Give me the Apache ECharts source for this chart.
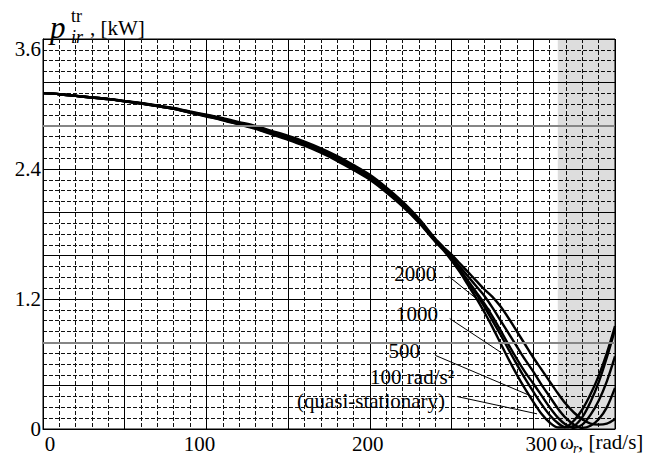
<!DOCTYPE html>
<html><head><meta charset="utf-8">
<script src="https://cdn.jsdelivr.net/npm/echarts@6/dist/echarts.min.js"></script>
<style>html,body{margin:0;padding:0;background:#fff}#c{width:648px;height:456px}</style>
</head><body><div id="c"></div>
<script>
// ---- data ----
const omega = [0,10,20,30,40,50,60,70,80,90,100,110,120,130,140,150,160,170,180,190,200,210,220,230,240,
  245,250,255,260,265,270,275,280,285,290,295,300,305,310,315,320,325,330,335,340,345,350];
const pQuasi = [3.10,3.09,3.075,3.06,3.045,3.025,3.005,2.98,2.955,2.92,2.885,2.85,2.81,2.77,2.72,2.67,2.615,2.55,2.475,2.39,2.30,2.185,2.055,1.905,1.73,
  1.65,1.555,1.45,1.33,1.21,1.08,0.94,0.79,0.64,0.50,0.37,0.25,0.14,0.06,0.015,0.02,0.08,0.18,0.32,0.49,0.70,0.95];
const p100 = [3.10,3.09,3.075,3.06,3.045,3.025,3.005,2.98,2.955,2.92,2.888,2.853,2.814,2.775,2.726,2.677,2.622,2.558,2.483,2.398,2.309,2.194,2.064,1.912,1.735,
  1.66,1.565,1.46,1.35,1.25,1.13,1.00,0.87,0.73,0.595,0.465,0.345,0.23,0.13,0.055,0.015,0.03,0.11,0.25,0.43,0.66,0.92];
const p500 = [3.10,3.09,3.075,3.06,3.045,3.025,3.005,2.982,2.957,2.923,2.892,2.858,2.82,2.782,2.734,2.686,2.632,2.568,2.494,2.41,2.32,2.205,2.075,1.922,1.742,
  1.665,1.575,1.475,1.37,1.265,1.16,1.04,0.91,0.775,0.645,0.525,0.42,0.31,0.20,0.105,0.04,0.01,0.04,0.13,0.26,0.44,0.67];
const p1000 = [3.10,3.09,3.075,3.06,3.046,3.027,3.007,2.984,2.96,2.927,2.896,2.863,2.826,2.789,2.742,2.695,2.642,2.579,2.506,2.422,2.332,2.216,2.085,1.93,1.748,
  1.67,1.59,1.50,1.41,1.32,1.23,1.12,1.00,0.88,0.76,0.64,0.53,0.41,0.30,0.19,0.10,0.04,0.01,0.03,0.09,0.20,0.38];
const p2000 = [3.10,3.09,3.076,3.061,3.047,3.028,3.009,2.987,2.963,2.931,2.901,2.869,2.833,2.797,2.751,2.705,2.653,2.591,2.519,2.436,2.346,2.23,2.098,1.942,1.757,
  1.68,1.61,1.53,1.45,1.37,1.29,1.22,1.13,1.02,0.90,0.78,0.66,0.55,0.44,0.33,0.23,0.15,0.09,0.05,0.04,0.05,0.09];
const xTickLabels = ['0','100','200','300'];
const yTickLabels = ['0','1.2','2.4','3.6'];
const shadeRange = [315, 350];
const grayLevels = [2.8, 0.8];
const annotTexts = ['2000','1000','500','100 rad/s\u00B2','(quasi-stationary)'];
const annotAt = [[227.8,1.43],[228.8,1.06],[221.1,0.72],[225.8,0.48],[200.7,0.26]];
const leaderFrom = [[248.2,1.41],[248.8,1.02],[240.0,0.68],[253.3,0.30]];
const leaderTo = [[273.7,1.10],[279.9,0.71],[299.3,0.30],[302.3,0.14]];

// ---- chart ----
const serif = 'Liberation Serif';
const chart = echarts.init(document.getElementById('c'), null, {renderer:'svg', width:648, height:456});
const mk = ys => omega.map((x,i)=>[x, ys[i]]);

const xShift = {'0':7,'100':-7,'200':-2,'300':8};
const xRich = {};
Object.keys(xShift).forEach(k=>{
  const s = xShift[k];
  xRich['s'+k] = {fontFamily:serif,fontSize:21,color:'#000',padding: s>0?[0,0,0,2*s]:[0,-2*s,0,0]};
});
const yRich = {
  top:{fontFamily:serif,fontSize:21,color:'#000',padding:[20,0,0,0]},
  n:{fontFamily:serif,fontSize:21,color:'#000'}
};

const curveStyle = {color:'#000', width:2.4};
const mkSeries = (name, ys) => ({
  type:'line', name, data: mk(ys), showSymbol:false, smooth:0.3,
  lineStyle:curveStyle, silent:true, z:3
});

const markLineData = grayLevels.map(v=>({yAxis:v, lineStyle:{color:'#858585', width:2, type:'solid'}}))
  .concat(leaderFrom.map((f,i)=>[{coord:f, lineStyle:{color:'#000', width:1, type:'solid'}},{coord:leaderTo[i]}]));

const series = [
  Object.assign(mkSeries('quasi-stationary', pQuasi), {
    markArea:{silent:true, itemStyle:{color:'rgba(0,0,0,0.135)'}, data:[[{xAxis:shadeRange[0]},{xAxis:shadeRange[1]}]]},
    markLine:{silent:true, symbol:['none','none'], label:{show:false}, animation:false, data:markLineData},
    markPoint:{silent:true, symbol:'circle', symbolSize:0, animation:false,
      label:{show:true, position:'inside', formatter:'{b}', fontFamily:serif, fontSize:21, color:'#000'},
      data: annotTexts.map((t,i)=>({name:t, coord:annotAt[i]}))}
  }),
  mkSeries('100', p100),
  mkSeries('500', p500),
  mkSeries('1000', p1000),
  mkSeries('2000', p2000)
];

chart.setOption({
  animation:false,
  backgroundColor:'#fff',
  textStyle:{fontFamily:serif},
  grid:{left:43, top:39, right:33, bottom:27, show:true, borderColor:'#000', borderWidth:1, backgroundColor:'transparent', containLabel:false},
  xAxis:{
    type:'value', min:0, max:350, interval:50,
    axisLine:{show:true, lineStyle:{color:'#000', width:1}},
    axisTick:{show:false},
    minorTick:{show:false, splitNumber:5},
    splitLine:{show:true, lineStyle:{color:'#000', width:1}},
    minorSplitLine:{show:true, lineStyle:{color:'#111', width:1, type:[4,2]}},
    axisLabel:{margin:4, fontFamily:serif, fontSize:21, color:'#000', rich:xRich,
      formatter:v=>{const s=String(Math.round(v)); return xTickLabels.includes(s)?('{s'+s+'|'+s+'}'):'';}}
  },
  yAxis:{
    type:'value', min:0, max:3.6, interval:0.4,
    axisLine:{show:true, lineStyle:{color:'#000', width:1}},
    axisTick:{show:false},
    minorTick:{show:false, splitNumber:4},
    splitLine:{show:true, lineStyle:{color:'#000', width:1}},
    minorSplitLine:{show:true, lineStyle:{color:'#111', width:1, type:[4,2]}},
    axisLabel:{margin:2, fontFamily:serif, fontSize:21, color:'#000', rich:yRich,
      formatter:v=>{const r=Math.round(v*10)/10; const s = r===0?'0':r.toFixed(1);
        if(!yTickLabels.includes(s)) return '';
        return s===yTickLabels[yTickLabels.length-1]?('{top|'+s+'}'):('{n|'+s+'}');}}
  },
  graphic:[
    {type:'text', x:50, y:27, z:10, style:{text:'p', fontFamily:serif, fontStyle:'italic', fontSize:31, fill:'#000', verticalAlign:'middle', textVerticalAlign:'middle'}},
    {type:'text', x:71, y:16, z:10, style:{text:'tr', fontFamily:serif, fontSize:18, fill:'#000', verticalAlign:'middle', textVerticalAlign:'middle'}},
    {type:'text', x:71, y:37, z:10, style:{text:'ir', fontFamily:serif, fontStyle:'italic', fontSize:18, fill:'#000', verticalAlign:'middle', textVerticalAlign:'middle'}},
    {type:'text', x:90, y:28, z:10, style:{text:', [kW]', fontFamily:serif, fontSize:21, fill:'#000', verticalAlign:'middle', textVerticalAlign:'middle'}},
    {type:'text', x:560, y:442, z:10, style:{text:'\u03C9', fontFamily:serif, fontSize:21, fill:'#000', verticalAlign:'middle', textVerticalAlign:'middle'}},
    {type:'text', x:573, y:448, z:10, style:{text:'r', fontFamily:serif, fontStyle:'italic', fontSize:14, fill:'#000', verticalAlign:'middle', textVerticalAlign:'middle'}},
    {type:'text', x:578, y:442, z:10, style:{text:', [rad/s]', fontFamily:serif, fontSize:21, fill:'#000', verticalAlign:'middle', textVerticalAlign:'middle'}}
  ],
  series
});
</script>
</body></html>
